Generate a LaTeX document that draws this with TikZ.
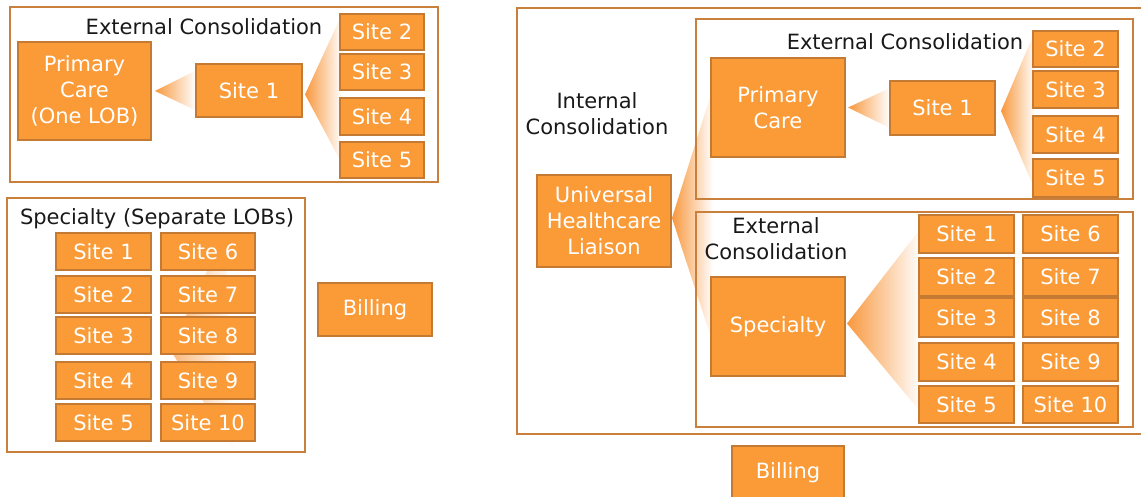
\documentclass[tikz,border=0pt]{standalone}
\usepackage{fontspec}
\setmainfont{DejaVu Sans}
\usetikzlibrary{calc,backgrounds}
\definecolor{boxfill}{RGB}{250,155,55}
\definecolor{boxline}{RGB}{196,122,50}
\definecolor{frameline}{RGB}{200,128,60}
\definecolor{fanC}{RGB}{248,152,62}
\begin{document}
\begin{tikzpicture}[x=1pt,y=-1pt,
  font=\fontsize{21}{26}\selectfont,
  sz/.style 2 args={minimum width=#1pt, minimum height=#2pt},
  sitebox/.style={draw=boxline, fill=boxfill, line width=2pt, text=white, inner sep=0pt, outer sep=0pt, align=center},
  frame/.style={draw=frameline, line width=2pt, inner sep=0pt, outer sep=0pt},
  lbl/.style={text=black!90, align=center, inner sep=0pt},
  fan/.style={left color=fanC, right color=white, draw=none},
  faintfan/.style={left color=fanC!70!white, right color=white, draw=none}]
\useasboundingbox (0,0) rectangle (1141,497);
% ---------------- left top ----------------
\node[frame, sz={428}{175}] (fLT) at (224,94.5) {};
\node[lbl] (tLT) at (204,27) {External Consolidation};
\node[sitebox, sz={133}{98}] (pcL) at (84.5,91) {Primary\\Care\\(One LOB)};
\node[sitebox, sz={106}{53}] (s1L) at (249,90.5) {Site 1};
\node[sitebox, sz={84}{36}] (s2L) at (382,32) {Site 2};
\node[sitebox, sz={84}{36}] (s3L) at (382,72) {Site 3};
\node[sitebox, sz={84}{37}] (s4L) at (382,116.5) {Site 4};
\node[sitebox, sz={84}{36}] (s5L) at (382,160) {Site 5};
% ---------------- left bottom ----------------
\node[frame, sz={298}{254}] (fLB) at (156,325) {};
\node[lbl] (tLB) at (157,219) {Specialty (Separate LOBs)};
\node[sitebox, sz={95}{37}] (b1) at (103.5,251.5) {Site 1};
\node[sitebox, sz={95}{37}] (b2) at (103.5,294.5) {Site 2};
\node[sitebox, sz={95}{37}] (b3) at (103.5,335.5) {Site 3};
\node[sitebox, sz={95}{37}] (b4) at (103.5,380.5) {Site 4};
\node[sitebox, sz={95}{37}] (b5) at (103.5,422.5) {Site 5};
\node[sitebox, sz={94}{37}] (b6) at (208,251.5) {Site 6};
\node[sitebox, sz={94}{37}] (b7) at (208,294.5) {Site 7};
\node[sitebox, sz={94}{37}] (b8) at (208,335.5) {Site 8};
\node[sitebox, sz={94}{37}] (b9) at (208,380.5) {Site 9};
\node[sitebox, sz={94}{37}] (b10) at (208,422.5) {Site 10};
\node[sitebox, sz={114}{53}] (billL) at (375,309.5) {Billing};
% ---------------- right ----------------
\node[frame, sz={633}{426}] (fR) at (833.5,221) {};
\node[lbl] (tInt) at (597,113.5) {Internal\\Consolidation};
\node[sitebox, sz={134}{92}] (uhl) at (604,221) {Universal\\Healthcare\\Liaison};
% inner 1
\node[frame, sz={437}{180}] (fR1) at (914.5,109) {};
\node[lbl] (tR1) at (905,42) {External Consolidation};
\node[sitebox, sz={134}{99}] (pcR) at (778,107.5) {Primary\\Care};
\node[sitebox, sz={105}{54}] (s1R) at (942.5,108) {Site 1};
\node[sitebox, sz={85}{36}] (r2) at (1075.5,49) {Site 2};
\node[sitebox, sz={85}{37}] (r3) at (1075.5,89.5) {Site 3};
\node[sitebox, sz={85}{37}] (r4) at (1075.5,134.5) {Site 4};
\node[sitebox, sz={85}{38}] (r5) at (1075.5,178) {Site 5};
% inner 2
\node[frame, sz={437}{215}] (fR2) at (914.5,319.5) {};
\node[lbl] (tR2) at (776,239) {External\\Consolidation};
\node[sitebox, sz={134}{99}] (spR) at (778,326.5) {Specialty};
\node[sitebox, sz={95}{38}] (q1) at (966.5,234) {Site 1};
\node[sitebox, sz={95}{38}] (q2) at (966.5,277) {Site 2};
\node[sitebox, sz={95}{39}] (q3) at (966.5,317.5) {Site 3};
\node[sitebox, sz={95}{38}] (q4) at (966.5,362) {Site 4};
\node[sitebox, sz={95}{37}] (q5) at (966.5,404.5) {Site 5};
\node[sitebox, sz={95}{38}] (q6) at (1070.5,234) {Site 6};
\node[sitebox, sz={95}{38}] (q7) at (1070.5,277) {Site 7};
\node[sitebox, sz={95}{39}] (q8) at (1070.5,317.5) {Site 8};
\node[sitebox, sz={95}{38}] (q9) at (1070.5,362) {Site 9};
\node[sitebox, sz={95}{37}] (q10) at (1070.5,404.5) {Site 10};
\node[sitebox, sz={112}{54}] (billR) at (788,473) {Billing};
% ---------------- fans ----------------
\begin{pgfonlayer}{background}
\shade[fan] ($(pcL.east)+(4,0)$) -- ($(s1L.west)+(0,-20)$) -- ($(s1L.west)+(0,20)$) -- cycle;
\shade[fan] ($(s1L.east)+(3,4)$) -- ($(s2L.north west)+(2,0)$) -- ($(s5L.west)+(0,0)$) -- cycle;
\shade[faintfan] ($(b8.west)+(9,14)$) -- ($(b6.north)+(17,0)$) -- ($(b10.south)+(27,10)$) -- cycle;
\shade[fan] ($(uhl.east)+(1,-3)$) -- ($(pcR.west)+(2,-20)$) -- ($(spR.west)+(2,17)$) -- cycle;
\shade[fan] ($(pcR.east)+(3,0)$) -- ($(s1R.west)+(0,-20)$) -- ($(s1R.west)+(0,20)$) -- cycle;
\shade[fan] ($(s1R.east)+(6,3)$) -- ($(r2.north west)+(2,0)$) -- ($(r5.west)+(2,12)$) -- cycle;
\shade[fan] ($(spR.east)+(2,-3)$) -- ($(q1.west)+(2,-6)$) -- ($(q5.west)+(2,8)$) -- cycle;
\end{pgfonlayer}
\end{tikzpicture}
\end{document}
